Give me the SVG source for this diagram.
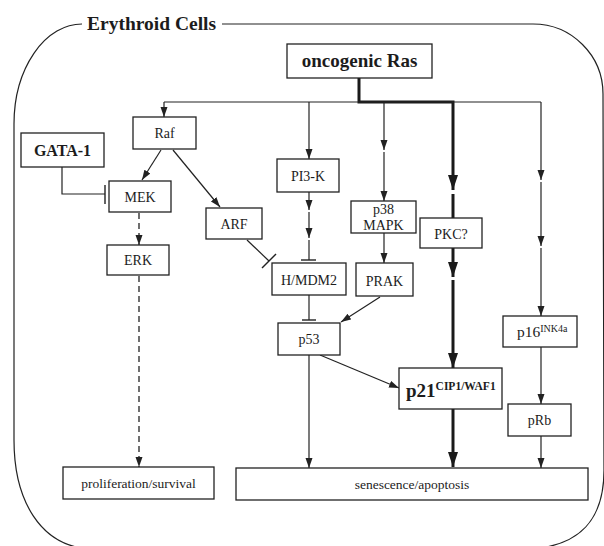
<svg xmlns="http://www.w3.org/2000/svg" width="604" height="546" viewBox="0 0 604 546">
<style>
text{font-family:"Liberation Serif","Times New Roman",serif;fill:#1c1c1c}
.lbl{font-size:14px;text-anchor:middle}
.bold{font-weight:bold}
.box{fill:#fff;stroke:#222;stroke-width:1.3}
.ln{fill:none;stroke:#222;stroke-width:1.2}
.thk{fill:none;stroke:#1a1a1a;stroke-width:3}
.dash{fill:none;stroke:#222;stroke-width:1.3;stroke-dasharray:6,4}
.bar{stroke:#222;stroke-width:1.4}
</style>
<defs>
<marker id="a" markerUnits="userSpaceOnUse" markerWidth="10" markerHeight="8" refX="10" refY="3.5" orient="auto"><path d="M0,0 L10,3.5 L0,7 z" fill="#222"/></marker>
<marker id="A" markerUnits="userSpaceOnUse" markerWidth="15" markerHeight="11" refX="15" refY="5" orient="auto"><path d="M0,0 L15,5 L0,10 z" fill="#1a1a1a"/></marker>
</defs>
<rect width="604" height="546" fill="#fff"/>
<g id="border">
<path class="ln" d="M222,24 H533 A70,70 0 0 1 603,94 L604,470 C604,520 580,546 530,549 H90 C40,546 14,500 14,440 V124 A68,100 0 0 1 82,24"/>
<text x="87" y="30" class="bold" style="font-size:19.5px">Erythroid Cells</text>
</g>
<g id="connectors">
<path class="thk" d="M359,78 V102 H453 V190" marker-end="url(#A)"/>
<path class="thk" d="M453,194 V218"/>
<path class="thk" d="M453,248 V277" marker-end="url(#A)"/>
<path class="thk" d="M453,280 V368" marker-end="url(#A)"/>
<path class="thk" d="M453,409 V467" marker-end="url(#A)"/>
<path class="ln" d="M164,102 H541"/>
<path class="ln" d="M164,102 V117" marker-end="url(#a)"/>
<path class="ln" d="M309,102 V159" marker-end="url(#a)"/>
<path class="ln" d="M309,192 V210" marker-end="url(#a)"/>
<path class="ln" d="M309,212 V238" marker-end="url(#a)"/>
<path class="ln" d="M309,240 V260"/>
<line class="bar" x1="301" y1="260" x2="316" y2="260"/>
<path class="ln" d="M384,102 V150" marker-end="url(#a)"/>
<path class="ln" d="M384,152 V201" marker-end="url(#a)"/>
<path class="ln" d="M384,233 V263" marker-end="url(#a)"/>
<path class="ln" d="M541,102 V180" marker-end="url(#a)"/>
<path class="ln" d="M541,182 V246" marker-end="url(#a)"/>
<path class="ln" d="M541,248 V316" marker-end="url(#a)"/>
<path class="ln" d="M541,347 V404" marker-end="url(#a)"/>
<path class="ln" d="M541,436 V468" marker-end="url(#a)"/>
<path class="ln" d="M161,150 L142,180" marker-end="url(#a)"/>
<path class="ln" d="M173,150 L220,207" marker-end="url(#a)"/>
<path class="ln" d="M62,167 V194 H105"/>
<line class="bar" x1="105" y1="185" x2="105" y2="204"/>
<path class="dash" d="M139,213 V245" marker-end="url(#a)"/>
<path class="dash" d="M139,276 V467" marker-end="url(#a)"/>
<path class="ln" d="M247,240 L269,261"/>
<line class="bar" x1="262" y1="268" x2="276" y2="254"/>
<path class="ln" d="M309,295 V320"/>
<line class="bar" x1="302" y1="320" x2="316" y2="320"/>
<path class="ln" d="M380,297 L341,322" marker-end="url(#a)"/>
<path class="ln" d="M320,355 L399,388" marker-end="url(#a)"/>
<path class="ln" d="M309,355 V468" marker-end="url(#a)"/>
</g>
<g id="ras"><rect class="box" x="287" y="44" width="145" height="34"/><text x="359.5" y="67" class="lbl bold" style="font-size:19px">oncogenic Ras</text></g>
<g id="gata1"><rect class="box" x="21" y="133" width="83" height="34"/><text x="62.5" y="156" class="lbl bold" style="font-size:16px">GATA-1</text></g>
<g id="raf"><rect class="box" x="133" y="117" width="63" height="32"/><text x="164.5" y="138" class="lbl">Raf</text></g>
<g id="mek"><rect class="box" x="109" y="181" width="62" height="31"/><text x="140" y="202" class="lbl">MEK</text></g>
<g id="erk"><rect class="box" x="107" y="245" width="62" height="30"/><text x="138" y="265" class="lbl">ERK</text></g>
<g id="arf"><rect class="box" x="206" y="208" width="56" height="31"/><text x="234" y="229" class="lbl">ARF</text></g>
<g id="pi3k"><rect class="box" x="277" y="159" width="62" height="33"/><text x="308" y="181" class="lbl">PI3-K</text></g>
<g id="p38"><rect class="box" x="351" y="201" width="65" height="32"/><text x="383.5" y="214" class="lbl">p38</text><text x="383.5" y="230" class="lbl">MAPK</text></g>
<g id="pkc"><rect class="box" x="420" y="218" width="62" height="30"/><text x="451" y="239" class="lbl">PKC?</text></g>
<g id="mdm2"><rect class="box" x="272" y="263" width="74" height="32"/><text x="309" y="285" class="lbl">H/MDM2</text></g>
<g id="prak"><rect class="box" x="356" y="263" width="57" height="33"/><text x="384.5" y="286" class="lbl">PRAK</text></g>
<g id="p53"><rect class="box" x="278" y="323" width="62" height="32"/><text x="309" y="344" class="lbl">p53</text></g>
<g id="p21"><rect class="box" x="399" y="368" width="103" height="41"/><text x="406" y="397" class="bold" style="font-size:19px">p21<tspan dy="-7" style="font-size:11.5px">CIP1/WAF1</tspan></text></g>
<g id="p16"><rect class="box" x="503" y="316" width="74" height="31"/><text x="517" y="337" style="font-size:15.5px">p16<tspan dy="-5" style="font-size:10px">INK4a</tspan></text></g>
<g id="prb"><rect class="box" x="508" y="404" width="63" height="32"/><text x="539.5" y="425" class="lbl">pRb</text></g>
<g id="prolif"><rect class="box" x="63" y="467" width="151" height="32"/><text x="138.5" y="488" class="lbl" style="font-size:13.5px">proliferation/survival</text></g>
<g id="senes"><rect class="box" x="236" y="468" width="352" height="32"/><text x="412" y="489" class="lbl" style="font-size:13.5px">senescence/apoptosis</text></g>
</svg>
